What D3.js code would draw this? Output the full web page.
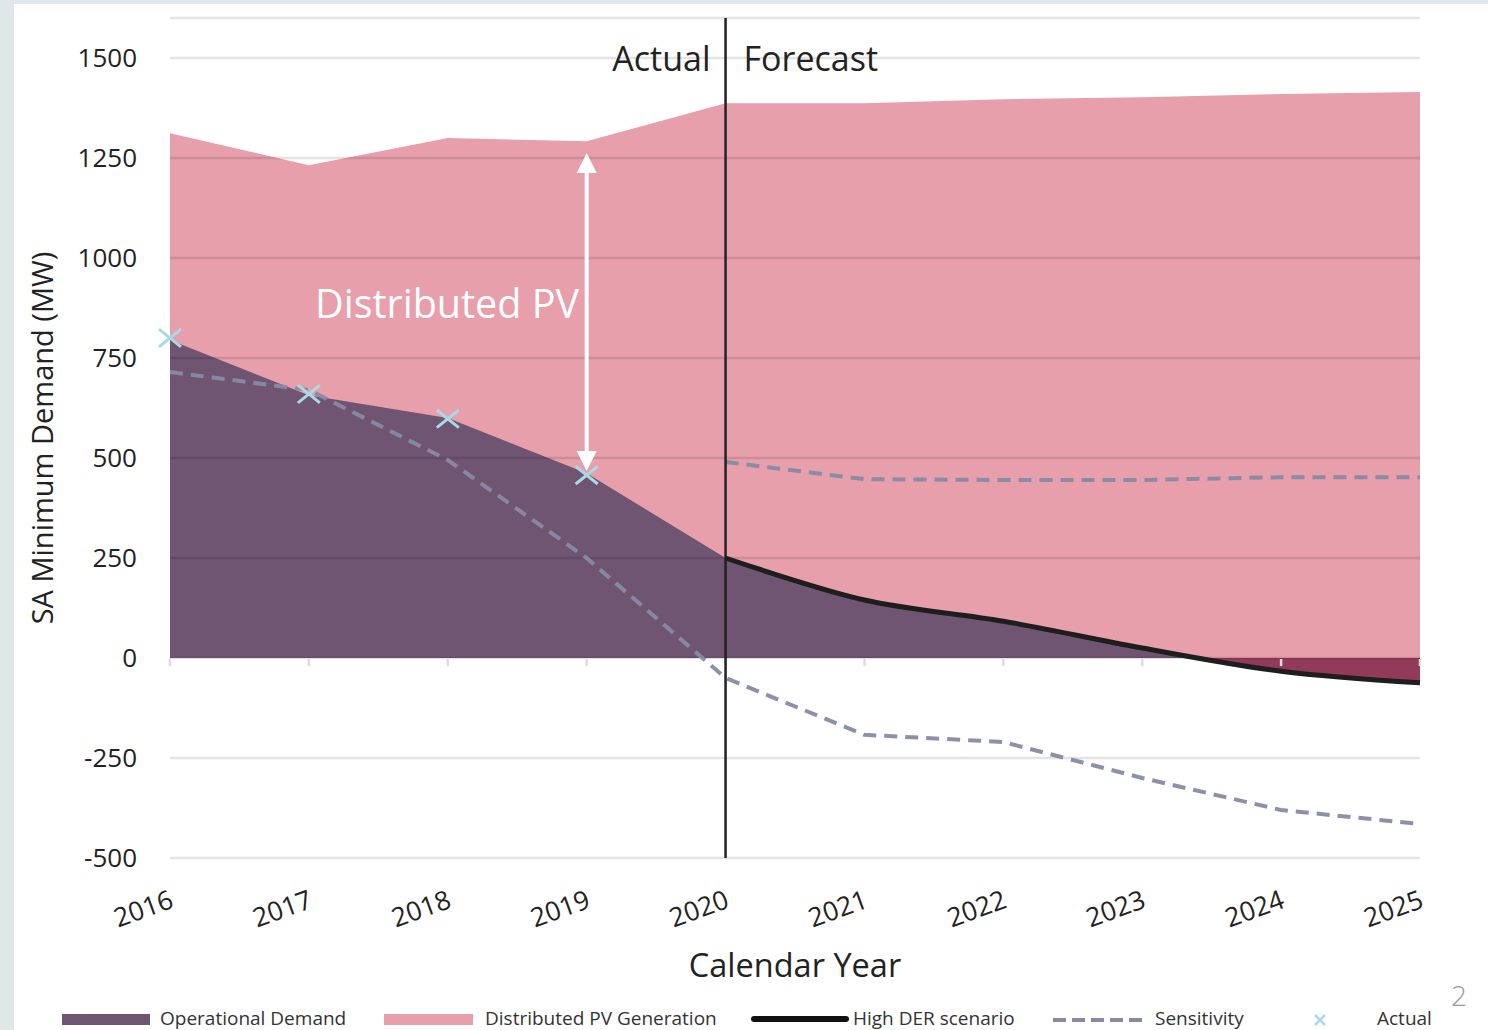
<!DOCTYPE html>
<html><head><meta charset="utf-8">
<script src="https://cdn.jsdelivr.net/npm/d3@7"></script>
<style>
html,body{margin:0;padding:0;background:#fff;}
svg{display:block;font-family:"Open Sans","Noto Sans",sans-serif;}
</style></head>
<body>
<svg id="chart" width="1488" height="1030"></svg>
<script>
const years = [2016,2017,2018,2019,2020,2021,2022,2023,2024,2025];
const operationalDemand = [795,657,600,462,250,145,92,25,-33,-62];
const totalDemand = [1312,1232,1300,1292,1387,1387,1397,1402,1410,1415];
const highDER = [null,null,null,null,250,145,92,25,-33,-62];
const sensitivityLow = [715,670,495,250,-50,-192,-210,-300,-380,-415];
const sensitivityHigh = [null,null,null,null,490,447,445,445,452,452];
const actual = [800,660,598,457,null,null,null,null,null,null];
const yTicks = [-500,-250,0,250,500,750,1000,1250,1500];
const gridValues = [-500,-250,0,250,500,750,1000,1250,1500,1600];

const svg = d3.select("#chart");
svg.append("rect").attr("x",0).attr("y",0).attr("width",1488).attr("height",1030).attr("fill","#e0e7e9");
svg.append("rect").attr("x",14).attr("y",4).attr("width",1474).attr("height",1026).attr("fill","#ffffff");

const x = d3.scaleLinear().domain([2016,2025]).range([170,1420]);
const y = d3.scaleLinear().domain([-500,1600]).range([858,18]);

const idx = d3.range(years.length);

svg.append("path")
  .attr("d", d3.area().x(i=>x(years[i])).y0(y(0)).y1(i=>y(totalDemand[i]))(idx))
  .attr("fill","#e79fab");

function splitSeries(vals, positive){
  const pts=[];
  for(let i=0;i<vals.length;i++){
    const v=vals[i];
    pts.push([years[i], positive?Math.max(v,0):Math.min(v,0)]);
    if(i<vals.length-1){
      const a=vals[i], b=vals[i+1];
      if((a>0&&b<0)||(a<0&&b>0)){
        const t=a/(a-b);
        pts.push([years[i]+t*(years[i+1]-years[i]),0]);
      }
    }
  }
  return pts;
}
const areaGen = d3.area().x(d=>x(d[0])).y0(y(0)).y1(d=>y(d[1]));
svg.append("path").attr("d", areaGen(splitSeries(operationalDemand,true))).attr("fill","#705573");
svg.append("path").attr("d", areaGen(splitSeries(operationalDemand,false))).attr("fill","#923a5a");

svg.append("g").selectAll("line").data(gridValues).join("line")
  .attr("x1",170).attr("x2",1420)
  .attr("y1",d=>y(d)).attr("y2",d=>y(d))
  .attr("stroke","rgba(0,0,0,0.11)").attr("stroke-width",2.5);

svg.append("g").selectAll("line").data(years).join("line")
  .attr("x1",d=>x(d)).attr("x2",d=>x(d))
  .attr("y1",y(0)+1).attr("y2",y(0)+8)
  .attr("stroke","#dcdcdc").attr("stroke-width",2.5);

const lineGen = d3.line().defined(d=>d[1]!==null).x(d=>x(d[0])).y(d=>y(d[1])).curve(d3.curveCatmullRom.alpha(0.5));
[sensitivityLow, sensitivityHigh].forEach(s=>{
  svg.append("path")
    .attr("d", d3.line().defined(d=>d[1]!==null).x(d=>x(d[0])).y(d=>y(d[1]))(years.map((yr,i)=>[yr,s[i]])))
    .attr("fill","none").attr("stroke","#878aa4").attr("stroke-width",4)
    .attr("stroke-linejoin","round")
    .attr("stroke-dasharray","13,8").attr("opacity",0.95);
});

svg.append("path")
  .attr("d", lineGen(years.map((yr,i)=>[yr,highDER[i]])))
  .attr("fill","none").attr("stroke","#1e1e1e").attr("stroke-width",5).attr("stroke-linejoin","round");

svg.append("line").attr("x1",x(2020)).attr("x2",x(2020)).attr("y1",y(1600)).attr("y2",y(-500))
  .attr("stroke","#222").attr("stroke-width",2.5);

const ms=11;
svg.append("g").selectAll("path").data(idx.filter(i=>actual[i]!==null)).join("path")
  .attr("d", i=>{const cx=x(years[i]), cy=y(actual[i]);
    return `M${cx-ms},${cy-ms*0.8}L${cx+ms},${cy+ms*0.8}M${cx-ms},${cy+ms*0.8}L${cx+ms},${cy-ms*0.8}`;})
  .attr("stroke","#a6dbe5").attr("stroke-width",3).attr("fill","none");

const ax = x(2019);
svg.append("line").attr("x1",ax).attr("x2",ax).attr("y1",168).attr("y2",456)
  .attr("stroke","#fff").attr("stroke-width",4);
svg.append("path").attr("d",`M${ax},153L${ax-10},173L${ax+10},173Z`).attr("fill","#fff");
svg.append("path").attr("d",`M${ax},471L${ax-10},451L${ax+10},451Z`).attr("fill","#fff");
svg.append("text").attr("x",315).attr("y",318).text("Distributed PV")
  .attr("fill","#fff").attr("font-size",39.5);

svg.append("text").attr("x",x(2020)-15).attr("y",71).attr("text-anchor","end").text("Actual")
  .attr("fill","#222").attr("font-size",34);
svg.append("text").attr("x",x(2020)+18).attr("y",71).attr("text-anchor","start").text("Forecast")
  .attr("fill","#222").attr("font-size",34);

svg.append("g").selectAll("text").data(yTicks).join("text")
  .attr("x",137).attr("y",d=>y(d)+9).attr("text-anchor","end")
  .attr("font-size",26).attr("fill","#222").text(d=>d);

svg.append("g").selectAll("text").data(years).join("text")
  .attr("transform",d=>`translate(${x(d)+5},${907}) rotate(-20)`)
  .attr("text-anchor","end").attr("font-size",26.5).attr("fill","#222").text(d=>d);

svg.append("text").attr("transform","translate(53,438) rotate(-90)").attr("text-anchor","middle")
  .attr("font-size",29).attr("fill","#222").text("SA Minimum Demand (MW)");
svg.append("text").attr("x",795).attr("y",977).attr("text-anchor","middle")
  .attr("font-size",32.5).attr("fill","#222").text("Calendar Year");

const lg = svg.append("g").attr("font-size",19).attr("fill","#333");
lg.append("rect").attr("x",62).attr("y",1014).attr("width",88).attr("height",11).attr("fill","#705573");
lg.append("text").attr("x",160).attr("y",1025).text("Operational Demand");
lg.append("rect").attr("x",384).attr("y",1014).attr("width",89).attr("height",11).attr("fill","#e79fab");
lg.append("text").attr("x",485).attr("y",1025).text("Distributed PV Generation");
lg.append("line").attr("x1",754).attr("x2",846).attr("y1",1019).attr("y2",1019)
  .attr("stroke","#111").attr("stroke-width",6).attr("stroke-linecap","round");
lg.append("text").attr("x",853).attr("y",1025).text("High DER scenario");
lg.append("line").attr("x1",1053).attr("x2",1145).attr("y1",1020).attr("y2",1020)
  .attr("stroke","#878aa4").attr("stroke-width",4).attr("stroke-dasharray","13,6");
lg.append("text").attr("x",1155).attr("y",1025).text("Sensitivity");
lg.append("path").attr("d","M1315,1015L1325,1025M1315,1025L1325,1015")
  .attr("stroke","#a6dbe5").attr("stroke-width",2.5);
lg.append("text").attr("x",1377).attr("y",1025).text("Actual");

svg.append("text").attr("x",1459).attr("y",1006).attr("text-anchor","middle")
  .attr("font-size",28).attr("fill","#9a9a9a").attr("font-weight",300).text("2");
</script>
</body></html>
